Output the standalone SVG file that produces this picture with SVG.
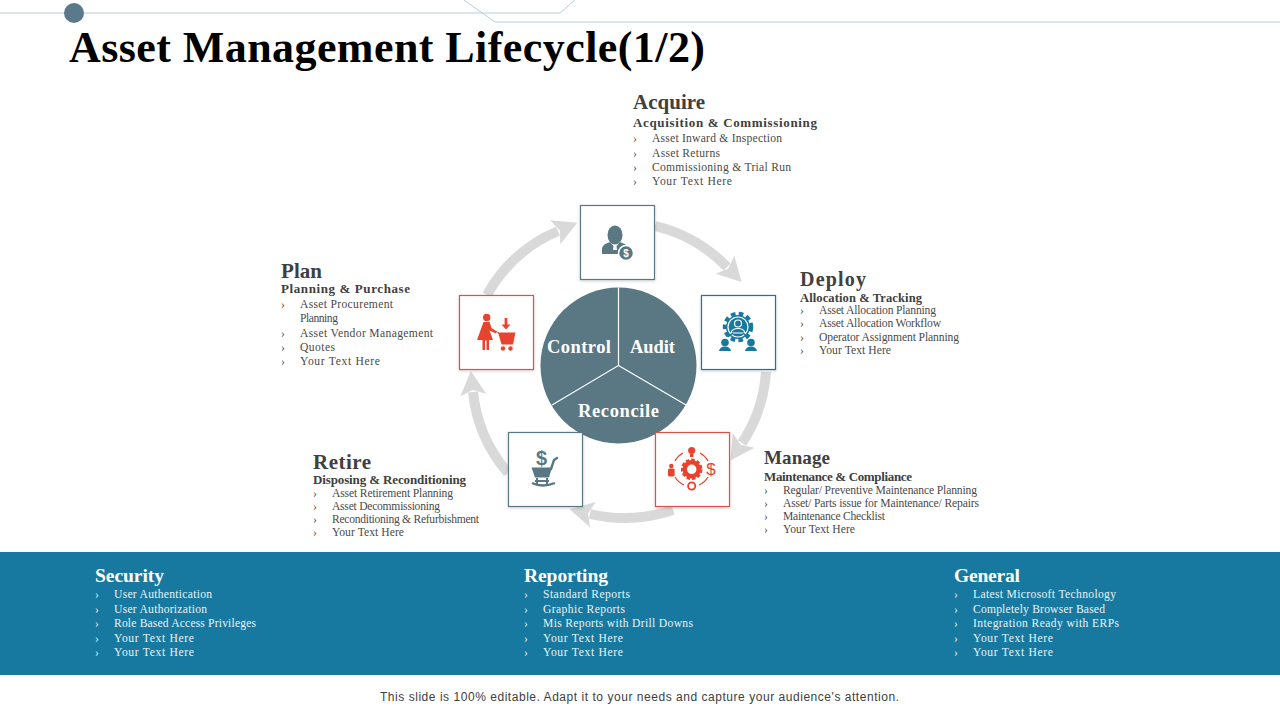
<svg xmlns="http://www.w3.org/2000/svg" width="1280" height="720" viewBox="0 0 1280 720">
<style>
text{font-family:"Liberation Serif","Times New Roman",serif;fill:#404040}
.t{font-size:21px;font-weight:700}
.s{font-size:13px;font-weight:700}
.i{font-size:11.6px;fill:#4a4a4a}
.w text{fill:#e8f3f7}
.w .t{font-size:19.5px;fill:#fff}
.c{font-size:18.5px;font-weight:700;fill:#fff}
.box{fill:#fff;stroke-width:1.2;filter:url(#sh)}
.arc{fill:none;stroke:#d9d9d9;stroke-width:10;marker-end:url(#head)}
.deco{fill:none;stroke:#b5d0dc;stroke-width:1}
</style>
<defs>
<filter id="sh" x="-10%" y="-10%" width="120%" height="120%"><feDropShadow dx="0" dy="1" stdDeviation="1.5" flood-color="#000" flood-opacity=".2"/></filter>
<marker id="head" markerUnits="userSpaceOnUse" markerWidth="26" markerHeight="30" refX="3" refY="15" orient="auto"><path d="M0 2 L24 15 L0 28 L5 15Z" fill="#d9d9d9"/></marker>
</defs>
<rect width="1280" height="720" fill="#fff"/>
<g id="decoration">
<path class="deco" d="M0 13H560L575 0"/>
<path class="deco" d="M464 0L495 22H1280"/>
<circle cx="74" cy="13" r="10" fill="#5a7a8c"/>
</g>
<text id="title" x="69" y="62" font-size="44" font-weight="700" style="fill:#000" textLength="636" lengthAdjust="spacing">Asset Management Lifecycle(1/2)</text>

<g id="connectors">
<path class="arc" d="M655 226A147 147 0 0 1 727 267"/>
<path class="arc" d="M766 372A147 147 0 0 1 742 443"/>
<path class="arc" d="M673 510A152 152 0 0 1 590 514"/>
<path class="arc" d="M508 473A147 147 0 0 1 473 392"/>
<path class="arc" d="M487 295A147 147 0 0 1 558 231"/>
</g>

<g id="hub">
<circle cx="618.5" cy="365.5" r="78" fill="#5a7784"/>
<path d="M618.5 287.5V365.5L552 405M618.5 365.5L686 405" fill="none" stroke="#fff" stroke-width="1.2"/>
<text class="c" x="547" y="353" textLength="64">Control</text>
<text class="c" x="630" y="353" textLength="45">Audit</text>
<text class="c" x="578" y="417" textLength="81">Reconcile</text>
</g>

<g id="node-acquire">
<rect class="box" x="580.5" y="205.5" width="74" height="74" stroke="#5a7784"/>
<g fill="#5a7784">
<ellipse cx="615" cy="235" rx="7.5" ry="9.5"/>
<path d="M602 254V248Q603 244 610 242L613.5 246L613 250H617L616.5 246L620 242Q626 244 629 247V254Z"/>
<circle cx="626" cy="253" r="7.5" stroke="#fff" stroke-width="1.5"/>
<text x="626" y="257" text-anchor="middle" font-size="10" font-weight="700" style="font-family:'Liberation Sans',sans-serif;fill:#fff">$</text>
</g>
<text class="t" x="633" y="109" textLength="72">Acquire</text>
<text class="s" x="633" y="127" textLength="184">Acquisition &amp; Commissioning</text>
<text class="i" x="633" y="142">›</text><text class="i" x="652" y="142" textLength="130">Asset Inward  &amp; Inspection</text>
<text class="i" x="633" y="156.5">›</text><text class="i" x="652" y="156.5" textLength="68">Asset Returns</text>
<text class="i" x="633" y="171">›</text><text class="i" x="652" y="171" textLength="139">Commissioning &amp; Trial Run</text>
<text class="i" x="633" y="185">›</text><text class="i" x="652" y="185" textLength="80">Your Text  Here</text>
</g>

<g id="node-deploy">
<rect class="box" x="701.5" y="295.5" width="74" height="74" stroke="#17799f"/>
<g fill="#17799f">
<circle cx="738" cy="327" r="13" fill="none" stroke="#17799f" stroke-width="4.5" stroke-dasharray="4.5 3.2"/>
<circle cx="738" cy="327" r="12"/>
<circle cx="738" cy="327" r="10" fill="none" stroke="#fff" stroke-width="1.2"/>
<circle cx="738" cy="323.5" r="3.5" fill="none" stroke="#fff" stroke-width="1.2"/>
<path d="M731 333Q732 328.5 738 328.5Q744 328.5 745 333Z" fill="none" stroke="#fff" stroke-width="1.2"/>
<circle cx="725" cy="342.5" r="3.8"/><circle cx="751" cy="342.5" r="3.8"/>
<path d="M719 351Q720 346.5 725 346.5Q730 346.5 731 351ZM745 351Q746 346.5 751 346.5Q756 346.5 757 351Z"/>
<path d="M728 337L733 333M748 337L743 333" stroke="#17799f" stroke-width="1.2"/>
</g>
<text class="t" x="800" y="286" textLength="66" style="font-size:20px">Deploy</text>
<text class="s" x="800" y="301.5" textLength="122" style="font-size:12.5px">Allocation &amp; Tracking</text>
<text class="i" x="800" y="314">›</text><text class="i" x="819" y="314" textLength="117">Asset Allocation Planning</text>
<text class="i" x="800" y="327">›</text><text class="i" x="819" y="327" textLength="122">Asset Allocation Workflow</text>
<text class="i" x="800" y="341">›</text><text class="i" x="819" y="341" textLength="140">Operator Assignment Planning</text>
<text class="i" x="800" y="354">›</text><text class="i" x="819" y="354" textLength="72">Your Text Here</text>
</g>

<g id="node-manage">
<rect class="box" x="655.5" y="432.5" width="74" height="74" stroke="#d9534a"/>
<g fill="#e8432e">
<circle cx="691.7" cy="469.3" r="7" fill="none" stroke="#e8432e" stroke-width="4.5"/>
<circle cx="691.7" cy="469.3" r="9.5" fill="none" stroke="#e8432e" stroke-width="2.5" stroke-dasharray="3.5 2"/>
<circle cx="691.7" cy="450.5" r="3.6"/><rect x="690" y="454" width="3.4" height="3"/>
<circle cx="691.7" cy="486" r="3.6" fill="none" stroke="#e8432e" stroke-width="1.8"/>
<circle cx="671.3" cy="466" r="2.2"/><rect x="668" y="468.5" width="6.6" height="8" rx="1.5"/>
<text x="711" y="475" text-anchor="middle" font-size="17" style="font-family:'Liberation Sans',sans-serif;fill:#e8432e">$</text>
<path d="M675 461A19 19 0 0 1 683 453M700 453A19 19 0 0 1 708 461M708 477A19 19 0 0 1 699 485M684 485A19 19 0 0 1 675 477" fill="none" stroke="#e8432e" stroke-width="1.2"/>
</g>
<text class="t" x="764" y="464" textLength="66" style="font-size:19px">Manage</text>
<text class="s" x="764" y="481" textLength="148">Maintenance &amp; Compliance</text>
<text class="i" x="764" y="494">›</text><text class="i" x="783" y="494" textLength="194">Regular/ Preventive Maintenance Planning</text>
<text class="i" x="764" y="507">›</text><text class="i" x="783" y="507" textLength="196">Asset/ Parts issue for Maintenance/ Repairs</text>
<text class="i" x="764" y="520">›</text><text class="i" x="783" y="520" textLength="102">Maintenance Checklist</text>
<text class="i" x="764" y="533">›</text><text class="i" x="783" y="533" textLength="72">Your Text Here</text>
</g>

<g id="node-retire">
<rect class="box" x="508.5" y="432.5" width="74" height="74" stroke="#5a7784"/>
<g fill="#5a7784">
<text x="541.5" y="465" text-anchor="middle" font-size="20" font-weight="700" style="font-family:'Liberation Sans',sans-serif;fill:#5a7784">$</text>
<path d="M531.5 467.5H552L549 477.5H535Z"/>
<path d="M551 469L554 460L557 458" fill="none" stroke="#5a7784" stroke-width="2.4" stroke-linecap="round"/>
<path d="M537 478V484M547 478V484M535 481H549" fill="none" stroke="#5a7784" stroke-width="2"/>
<path d="M532 483Q542 488 555 483" fill="none" stroke="#5a7784" stroke-width="2.4"/>
</g>
<text class="t" x="313" y="469" textLength="58">Retire</text>
<text class="s" x="313" y="484" textLength="153">Disposing &amp; Reconditioning</text>
<text class="i" x="313" y="497">›</text><text class="i" x="332" y="497" textLength="121">Asset Retirement Planning</text>
<text class="i" x="313" y="510">›</text><text class="i" x="332" y="510" textLength="108">Asset Decommissioning</text>
<text class="i" x="313" y="523">›</text><text class="i" x="332" y="523" textLength="147">Reconditioning &amp; Refurbishment</text>
<text class="i" x="313" y="536">›</text><text class="i" x="332" y="536" textLength="72">Your Text Here</text>
</g>

<g id="node-plan">
<rect class="box" x="459.5" y="295.5" width="74" height="74" stroke="#d9534a"/>
<g fill="#e8432e">
<circle cx="486.7" cy="317.5" r="3.7"/>
<path d="M483.5 322H489.5L491.5 328L497 331.5L496 333.5L489.5 330.5L493 340H489V350H486.5V340.5H485V350H482.5V340H477Z"/>
<path d="M496 331L499 332.5H515.5L513 344.5H501.5L498.5 334Z"/>
<circle cx="503" cy="348.5" r="2.2"/><circle cx="510.5" cy="348.5" r="2.2"/>
<path d="M504.6 318H507.4V324.5H510.5L506 329.5L501.5 324.5H504.6Z"/>
</g>
<text class="t" x="281" y="278" textLength="41">Plan</text>
<text class="s" x="281" y="293" textLength="129">Planning &amp; Purchase</text>
<text class="i" x="281" y="308">›</text><text class="i" x="300" y="308" textLength="93">Asset Procurement</text>
<text class="i" x="300" y="322" textLength="38">Planning</text>
<text class="i" x="281" y="337">›</text><text class="i" x="300" y="337" textLength="133">Asset Vendor Management</text>
<text class="i" x="281" y="351">›</text><text class="i" x="300" y="351" textLength="35">Quotes</text>
<text class="i" x="281" y="365">›</text><text class="i" x="300" y="365" textLength="80">Your Text  Here</text>
</g>

<rect id="band" x="0" y="552" width="1280" height="123" fill="#17799f"/>
<g id="security" class="w">
<text class="t" x="95" y="582" textLength="69">Security</text>
<text class="i" x="95" y="598">›</text><text class="i" x="114" y="598" textLength="98">User Authentication</text>
<text class="i" x="95" y="613">›</text><text class="i" x="114" y="613" textLength="93">User Authorization</text>
<text class="i" x="95" y="627">›</text><text class="i" x="114" y="627" textLength="142">Role Based Access Privileges</text>
<text class="i" x="95" y="642">›</text><text class="i" x="114" y="642" textLength="80">Your Text  Here</text>
<text class="i" x="95" y="656">›</text><text class="i" x="114" y="656" textLength="80">Your Text  Here</text>
</g>
<g id="reporting" class="w">
<text class="t" x="524" y="582" textLength="84">Reporting</text>
<text class="i" x="524" y="598">›</text><text class="i" x="543" y="598" textLength="87">Standard Reports</text>
<text class="i" x="524" y="613">›</text><text class="i" x="543" y="613" textLength="82">Graphic Reports</text>
<text class="i" x="524" y="627">›</text><text class="i" x="543" y="627" textLength="150">Mis Reports with Drill Downs</text>
<text class="i" x="524" y="642">›</text><text class="i" x="543" y="642" textLength="80">Your Text  Here</text>
<text class="i" x="524" y="656">›</text><text class="i" x="543" y="656" textLength="80">Your Text  Here</text>
</g>
<g id="general" class="w">
<text class="t" x="954" y="582" textLength="66">General</text>
<text class="i" x="954" y="598">›</text><text class="i" x="973" y="598" textLength="143">Latest Microsoft Technology</text>
<text class="i" x="954" y="613">›</text><text class="i" x="973" y="613" textLength="132">Completely Browser Based</text>
<text class="i" x="954" y="627">›</text><text class="i" x="973" y="627" textLength="146">Integration Ready with ERPs</text>
<text class="i" x="954" y="642">›</text><text class="i" x="973" y="642" textLength="80">Your Text  Here</text>
<text class="i" x="954" y="656">›</text><text class="i" x="973" y="656" textLength="80">Your Text  Here</text>
</g>
<text id="footer" x="380" y="701" font-size="12" textLength="519" style="font-family:'Liberation Sans',Arial,sans-serif;fill:#404040">This slide is 100% editable. Adapt it to your needs and capture your audience's attention.</text>
</svg>
